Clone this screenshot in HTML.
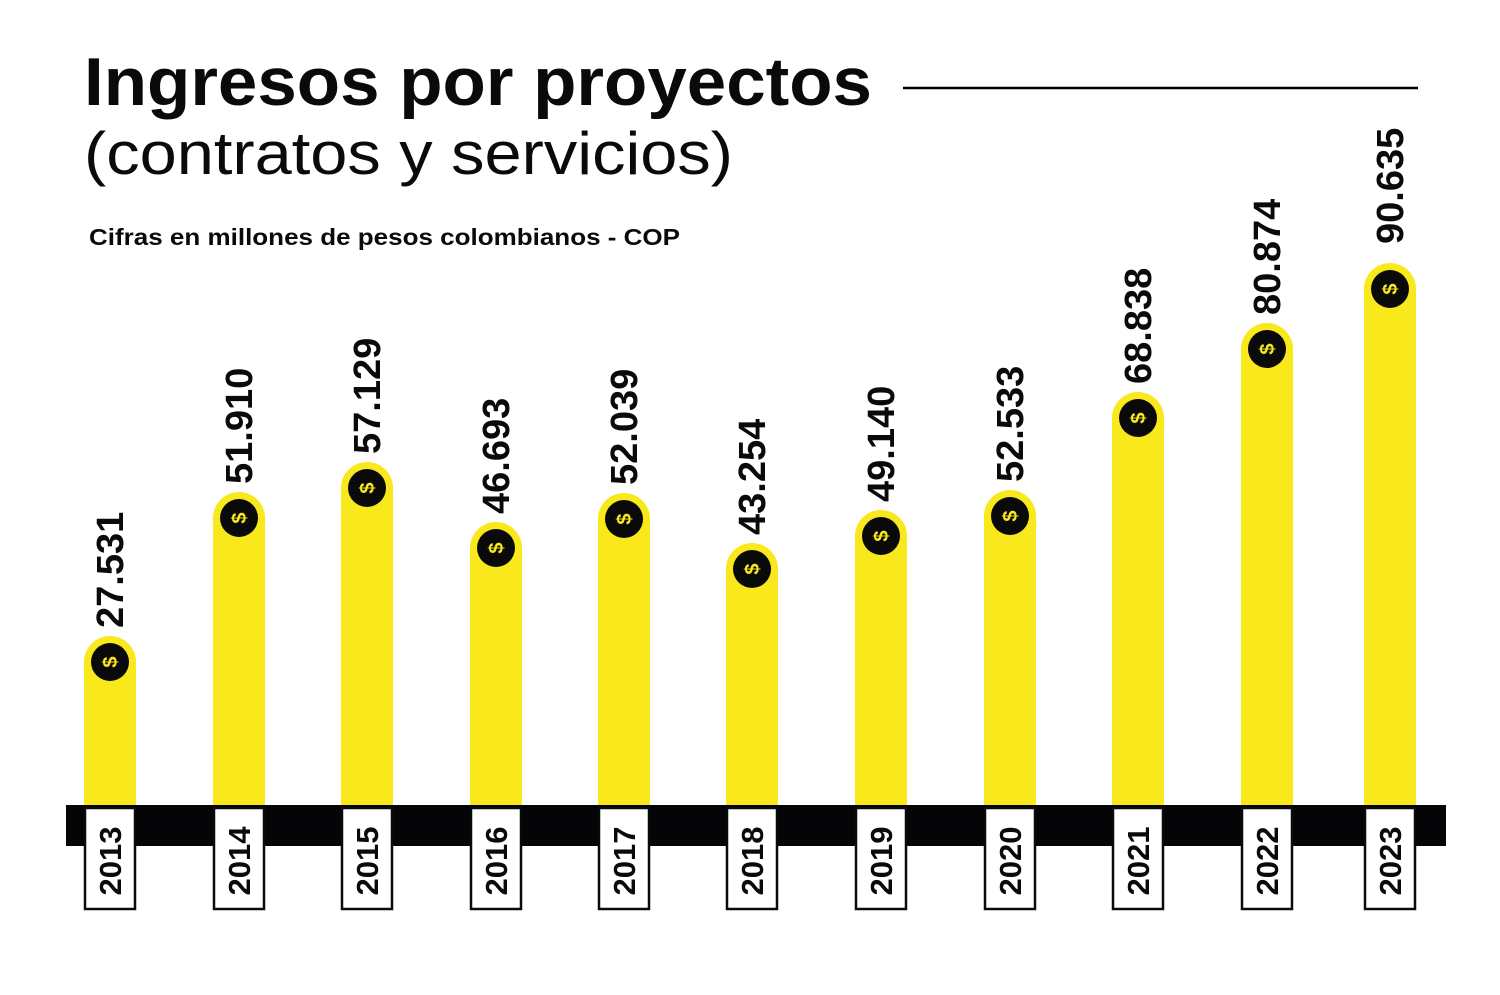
<!DOCTYPE html>
<html><head><meta charset="utf-8"><style>
body{margin:0;background:#fff;}
svg text{font-family:"Liberation Sans",Arial,sans-serif;}
.b{fill:#f8e81c}.c{fill:#0a0a0a}
.d{font-size:20px;font-weight:bold;fill:#f8e81c;text-anchor:middle}
.v{font-size:38px;font-weight:bold;fill:#0a0a0a}
.y{font-size:31px;font-weight:bold;fill:#0a0a0a;text-anchor:middle}
.r{fill:#fff;stroke:#0a0a0a;stroke-width:2.5}
</style></head><body>
<svg width="1500" height="990" viewBox="0 0 1500 990" xmlns="http://www.w3.org/2000/svg">
<rect width="1500" height="990" fill="#fff"/>
<text x="84" y="105" font-size="68" font-weight="bold" fill="#0a0a0a" textLength="788" lengthAdjust="spacingAndGlyphs">Ingresos por proyectos</text>
<line x1="903" y1="88" x2="1418" y2="88" stroke="#000" stroke-width="2.5"/>
<text x="84" y="174" font-size="60" fill="#0a0a0a" textLength="649" lengthAdjust="spacingAndGlyphs">(contratos y servicios)</text>
<text x="89" y="245" font-size="23" font-weight="bold" fill="#0a0a0a" textLength="591" lengthAdjust="spacingAndGlyphs">Cifras en millones de pesos colombianos - COP</text>
<rect x="66" y="805" width="1380" height="41" fill="#050507"/>

<path class="b" d="M84 805V662A26 26 0 0 1 136 662V805Z"/><circle class="c" cx="110" cy="662" r="19"/><text class="d" transform="translate(117,662) rotate(-90)">$</text><text class="v" transform="translate(123,628) rotate(-90)">27.531</text><rect class="r" x="85" y="808" width="50" height="101"/><text class="y" transform="translate(121,861) rotate(-90)">2013</text>

<path class="b" d="M213 805V518A26 26 0 0 1 265 518V805Z"/><circle class="c" cx="239" cy="518" r="19"/><text class="d" transform="translate(246,518) rotate(-90)">$</text><text class="v" transform="translate(252,484) rotate(-90)">51.910</text><rect class="r" x="214" y="808" width="50" height="101"/><text class="y" transform="translate(250,861) rotate(-90)">2014</text>

<path class="b" d="M341 805V488A26 26 0 0 1 393 488V805Z"/><circle class="c" cx="367" cy="488" r="19"/><text class="d" transform="translate(374,488) rotate(-90)">$</text><text class="v" transform="translate(380,454) rotate(-90)">57.129</text><rect class="r" x="342" y="808" width="50" height="101"/><text class="y" transform="translate(378,861) rotate(-90)">2015</text>

<path class="b" d="M470 805V548A26 26 0 0 1 522 548V805Z"/><circle class="c" cx="496" cy="548" r="19"/><text class="d" transform="translate(503,548) rotate(-90)">$</text><text class="v" transform="translate(509,514) rotate(-90)">46.693</text><rect class="r" x="471" y="808" width="50" height="101"/><text class="y" transform="translate(507,861) rotate(-90)">2016</text>

<path class="b" d="M598 805V519A26 26 0 0 1 650 519V805Z"/><circle class="c" cx="624" cy="519" r="19"/><text class="d" transform="translate(631,519) rotate(-90)">$</text><text class="v" transform="translate(637,485) rotate(-90)">52.039</text><rect class="r" x="599" y="808" width="50" height="101"/><text class="y" transform="translate(635,861) rotate(-90)">2017</text>

<path class="b" d="M726 805V569A26 26 0 0 1 778 569V805Z"/><circle class="c" cx="752" cy="569" r="19"/><text class="d" transform="translate(759,569) rotate(-90)">$</text><text class="v" transform="translate(765,535) rotate(-90)">43.254</text><rect class="r" x="727" y="808" width="50" height="101"/><text class="y" transform="translate(763,861) rotate(-90)">2018</text>

<path class="b" d="M855 805V536A26 26 0 0 1 907 536V805Z"/><circle class="c" cx="881" cy="536" r="19"/><text class="d" transform="translate(888,536) rotate(-90)">$</text><text class="v" transform="translate(894,502) rotate(-90)">49.140</text><rect class="r" x="856" y="808" width="50" height="101"/><text class="y" transform="translate(892,861) rotate(-90)">2019</text>

<path class="b" d="M984 805V516A26 26 0 0 1 1036 516V805Z"/><circle class="c" cx="1010" cy="516" r="19"/><text class="d" transform="translate(1017,516) rotate(-90)">$</text><text class="v" transform="translate(1023,482) rotate(-90)">52.533</text><rect class="r" x="985" y="808" width="50" height="101"/><text class="y" transform="translate(1021,861) rotate(-90)">2020</text>

<path class="b" d="M1112 805V418A26 26 0 0 1 1164 418V805Z"/><circle class="c" cx="1138" cy="418" r="19"/><text class="d" transform="translate(1145,418) rotate(-90)">$</text><text class="v" transform="translate(1151,384) rotate(-90)">68.838</text><rect class="r" x="1113" y="808" width="50" height="101"/><text class="y" transform="translate(1149,861) rotate(-90)">2021</text>

<path class="b" d="M1241 805V349A26 26 0 0 1 1293 349V805Z"/><circle class="c" cx="1267" cy="349" r="19"/><text class="d" transform="translate(1274,349) rotate(-90)">$</text><text class="v" transform="translate(1280,315) rotate(-90)">80.874</text><rect class="r" x="1242" y="808" width="50" height="101"/><text class="y" transform="translate(1278,861) rotate(-90)">2022</text>

<path class="b" d="M1364 805V289A26 26 0 0 1 1416 289V805Z"/><circle class="c" cx="1390" cy="289" r="19"/><text class="d" transform="translate(1397,289) rotate(-90)">$</text><text class="v" transform="translate(1403,244) rotate(-90)">90.635</text><rect class="r" x="1365" y="808" width="50" height="101"/><text class="y" transform="translate(1401,861) rotate(-90)">2023</text>
</svg>
</body></html>
